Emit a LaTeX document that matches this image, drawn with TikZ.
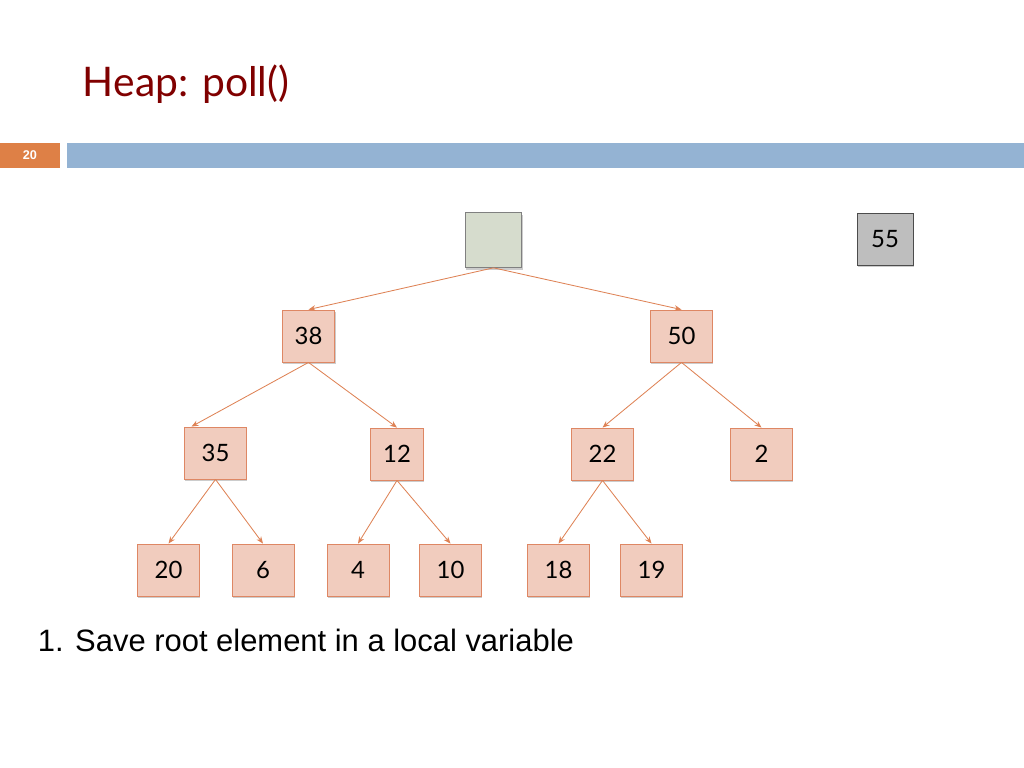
\documentclass[tikz,border=0pt]{standalone}
\usepackage{fontspec}
\setmainfont{Lato}
\newfontfamily\arialf{Liberation Sans}
\usetikzlibrary{arrows.meta,shadows}
\definecolor{nodefill}{RGB}{241,204,190}
\definecolor{nodeline}{RGB}{222,135,100}
\definecolor{edgec}{RGB}{222,130,85}
\definecolor{titlec}{RGB}{128,0,0}
\definecolor{barblue}{RGB}{148,179,211}
\definecolor{barorange}{RGB}{222,128,70}
\begin{document}
\begin{tikzpicture}[x=0.025cm,y=-0.025cm,
  hn/.style={draw=nodeline,fill=nodefill,line width=0.6pt,minimum width=1.55cm,minimum height=1.3cm,inner sep=0pt,font=\fontsize{17}{20}\selectfont,drop shadow={shadow xshift=0.5pt,shadow yshift=-1.5pt,opacity=0.4}},
  ed/.style={draw=edgec,line width=0.6pt,-{Stealth[length=5pt,width=4pt]}}]
\useasboundingbox (0,0) rectangle (1024,768);
\node[anchor=base west,text=titlec,font=\fontsize{29}{34}\selectfont] (title) at (78,97) {Heap: poll()};
\fill[barorange] (0,143) rectangle (60,168);
\node[text=white,font=\arialf\bfseries\fontsize{9}{10}\selectfont] (num) at (30,155) {20};
\fill[barblue] (67,143) rectangle (1024,168);
\node[hn,fill={rgb,255:red,214;green,220;blue,205},draw=gray,minimum width=1.42cm,minimum height=1.37cm] (r) at (493.5,240) {};
\node[hn,fill={rgb,255:red,190;green,190;blue,190},draw=black!70,minimum width=1.4cm] (x) at (885,239) {55};
\node[hn,minimum width=1.32cm] (a) at (308.5,336) {38};
\node[hn] (b) at (681.5,336) {50};
\node[hn] (c) at (215.5,453) {35};
\node[hn,minimum width=1.32cm] (d) at (397,454) {12};
\node[hn] (e) at (602.5,454) {22};
\node[hn] (f) at (761.5,454) {2};
\node[hn] (g) at (168.5,570) {20};
\node[hn] (h) at (263,570) {6};
\node[hn] (i) at (358,570) {4};
\node[hn] (j) at (450.5,570) {10};
\node[hn] (k) at (558.5,570) {18};
\node[hn] (l) at (651.5,570) {19};
\draw[ed] (r.south) -- (a.north);
\draw[ed] (r.south) -- (b.north);
\draw[ed] (a.south) -- ([xshift=-0.6cm]c.north);
\draw[ed] (a.south) -- (d.north);
\draw[ed] (b.south) -- (e.north);
\draw[ed] (b.south) -- (f.north);
\draw[ed] (c.south) -- (g.north);
\draw[ed] (c.south) -- (h.north);
\draw[ed] (d.south) -- (i.north);
\draw[ed] (d.south) -- (j.north);
\draw[ed] (e.south) -- (k.north);
\draw[ed] (e.south) -- (l.north);
\node[anchor=base west,font=\arialf\fontsize{22}{26}\selectfont] (t) at (33,651) {1. Save root element in a local variable};
\end{tikzpicture}
\end{document}
